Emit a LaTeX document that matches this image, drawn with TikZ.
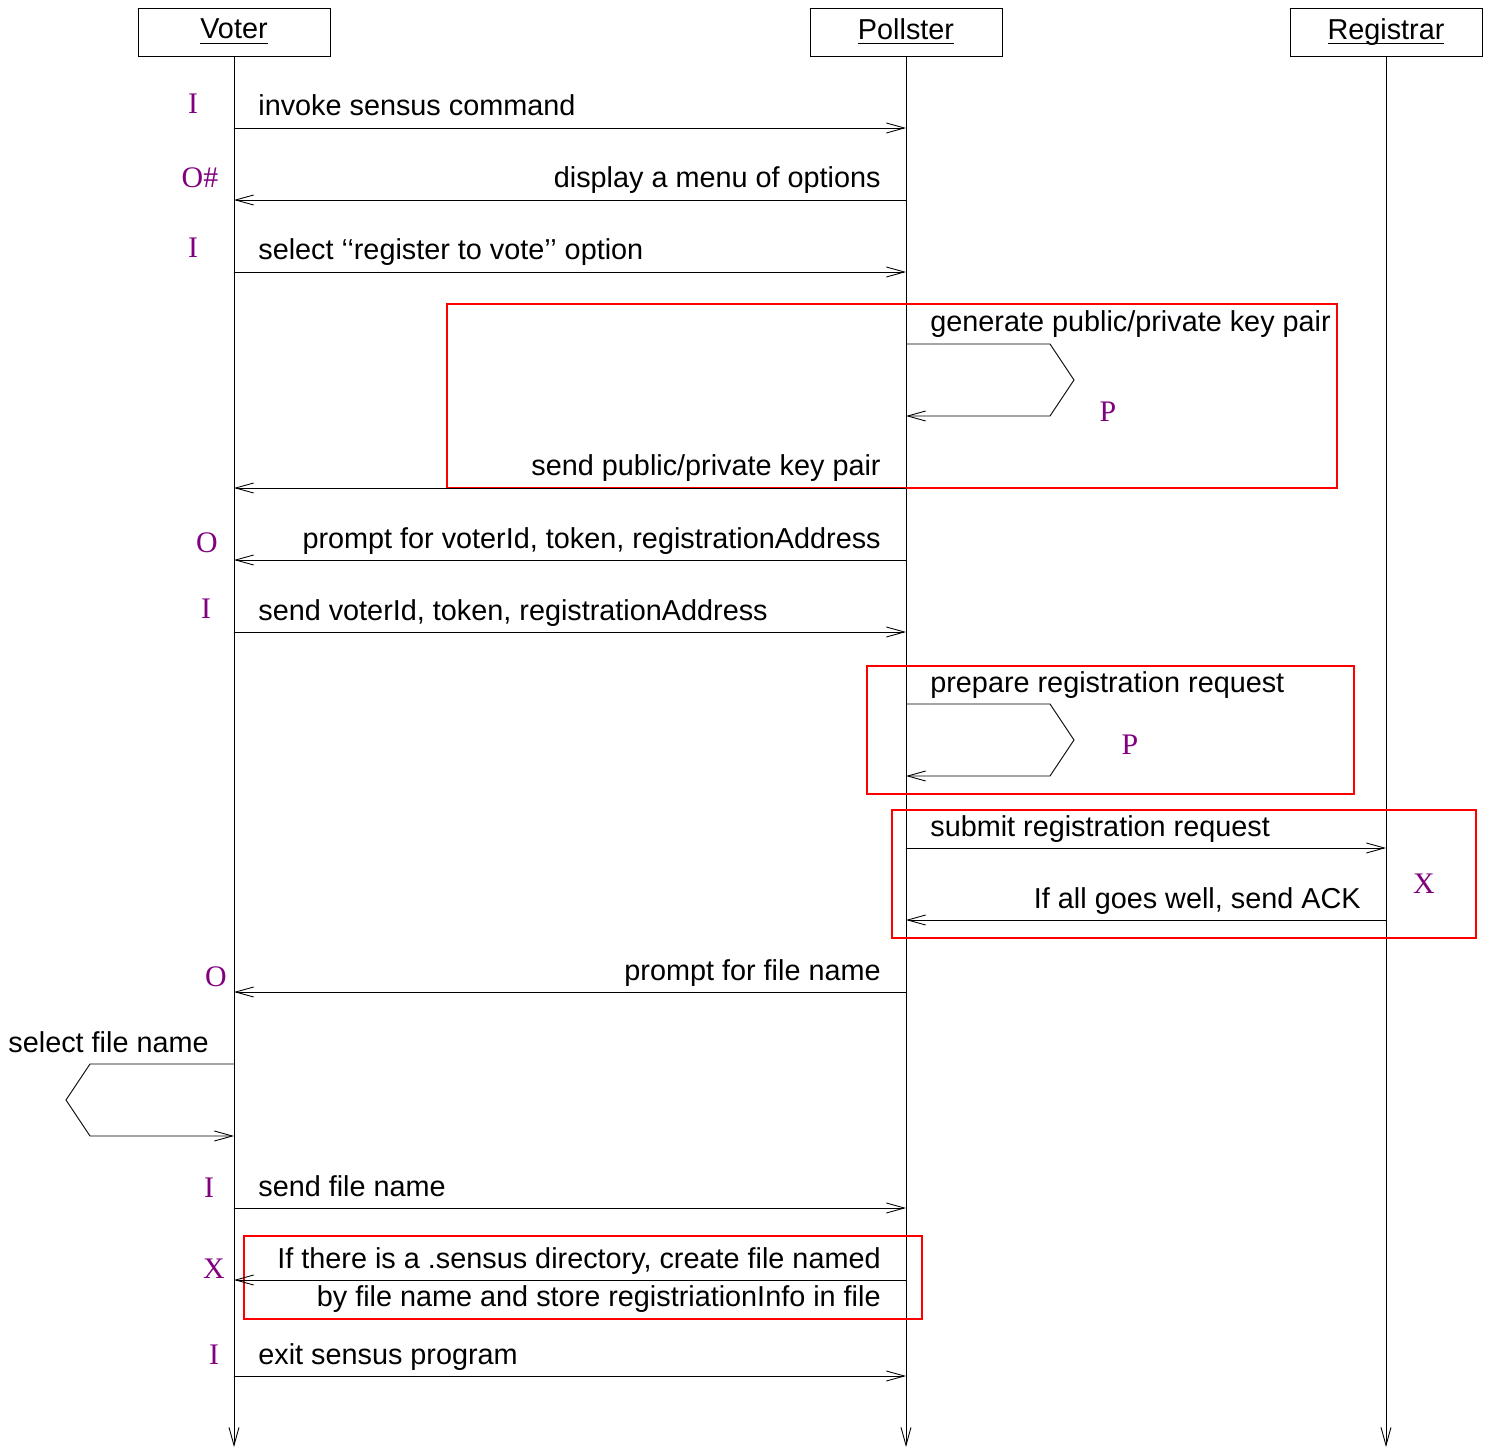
\documentclass[tikz,border=0pt]{standalone}
\usepackage{amsmath}
\usepackage{fontspec}
\setmainfont{Liberation Sans}
\newfontfamily\tagfont{Liberation Serif}
\usepackage{xcolor}
\usetikzlibrary{arrows.meta}
\definecolor{tagpurple}{RGB}{128,0,128}

\tikzset{
  actor/.style={draw,line width=0.5pt,minimum width=3.84cm,minimum height=0.96cm,inner sep=0pt},
  lifeline/.style={line width=0.5pt,-{Straight Barb[length=3.6mm,width=2mm]}},
  msg/.style={line width=0.5pt,-{Straight Barb[length=3.6mm,width=2mm]}},
  msgtext/.style={inner sep=0pt},
  tag/.style={text=tagpurple,font=\tagfont\fontsize{17}{20}\selectfont,inner sep=0pt},
  frag/.style={draw=red,line width=1.5pt}
}
\newcommand{\actorname}[1]{\underline{\smash[b]{#1}}}

\begin{document}
\begin{tikzpicture}[x=0.02cm,y=-0.02cm,font=\fontsize{16.4}{19.7}\selectfont]
    \useasboundingbox (0,0) rectangle (1488,1449);

        % actors and lifelines
        \node[actor] (voter) at (234,32) {\actorname{Voter}};
        \node[actor] (pollster) at (906,32) {\actorname{Pollster}};
        \node[actor] (registrar) at (1386,32) {\actorname{Registrar}};
        \coordinate (voterend) at (234,1447);
        \coordinate (pollsterend) at (906,1447);
        \coordinate (registrarend) at (1386,1447);
        \draw[lifeline] (voter) -- (voterend);
        \draw[lifeline] (pollster) -- (pollsterend);
        \draw[lifeline] (registrar) -- (registrarend);

        % red boxes
        \draw[frag] (447,304) rectangle (1337,488);
        \draw[frag] (867,666) rectangle (1354,794);
        \draw[frag] (892,810) rectangle (1476,938);
        \draw[frag] (244,1236) rectangle (922,1319);

        % messages
        \draw[msg] (voter |- 0,128) -- (pollster |- 0,128);
        \node[msgtext,anchor=base west] (m1) at (258,116) {invoke sensus command};
        \node[tag] (t1) at (193,104) {I};

        \draw[msg] (pollster |- 0,200) -- (voter |- 0,200);
        \node[msgtext,anchor=base east] (m2) at (881,188) {display a menu of options};
        \node[tag] (t2) at (200,178) {O\#};

        \draw[msg] (voter |- 0,272) -- (pollster |- 0,272);
        \node[msgtext,anchor=base west] (m3) at (258,260) {select {`}{`}register to vote{'}{'} option};
        \node[tag] (t3) at (193,248) {I};

        \draw[msg] (pollster |- 0,344) -- (1050,344) -- (1074,380) -- (1050,416) -- (pollster |- 0,416);
        \node[msgtext,anchor=base west] (m4) at (930,332) {generate public/private key pair};
        \node[tag] (t4) at (1108,412) {P};

        \draw[msg] (pollster |- 0,488) -- (voter |- 0,488);
        \node[msgtext,anchor=base east] (m5) at (881,476) {send public/private key pair};

        \draw[msg] (pollster |- 0,560) -- (voter |- 0,560);
        \node[msgtext,anchor=base east] (m6) at (881,548) {prompt for voterId, token, registrationAddress};
        \node[tag] (t6) at (207,543) {O};

        \draw[msg] (voter |- 0,632) -- (pollster |- 0,632);
        \node[msgtext,anchor=base west] (m7) at (258,620) {send voterId, token, registrationAddress};
        \node[tag] (t7) at (206,609) {I};

        \draw[msg] (pollster |- 0,704) -- (1050,704) -- (1074,740) -- (1050,776) -- (pollster |- 0,776);
        \node[msgtext,anchor=base west] (m8) at (930,692) {prepare registration request};
        \node[tag] (t8) at (1130,745) {P};

        \draw[msg] (pollster |- 0,848) -- (registrar |- 0,848);
        \node[msgtext,anchor=base west] (m9) at (930,836) {submit registration request};

        \draw[msg] (registrar |- 0,920) -- (pollster |- 0,920);
        \node[msgtext,anchor=base east] (m10) at (1361,908) {If all goes well, send ACK};
        \node[tag] (t10) at (1424,884) {X};

        \draw[msg] (pollster |- 0,992) -- (voter |- 0,992);
        \node[msgtext,anchor=base east] (m11) at (881,980) {prompt for file name};
        \node[tag] (t11) at (216,977) {O};

        \draw[msg] (voter |- 0,1064) -- (90,1064) -- (66,1100) -- (90,1136) -- (voter |- 0,1136);
        \node[msgtext,anchor=base east] (m12) at (209,1052) {select file name};

        \draw[msg] (voter |- 0,1208) -- (pollster |- 0,1208);
        \node[msgtext,anchor=base west] (m13) at (258,1196) {send file name};
        \node[tag] (t13) at (209,1188) {I};

        \draw[msg] (pollster |- 0,1280) -- (voter |- 0,1280);
        \node[msgtext,anchor=base east] (m14) at (881,1268) {If there is a .sensus directory, create file named};
        \node[msgtext,anchor=base east] (m14b) at (881,1306) {by file name and store registriationInfo in file};
        \node[tag] (t14) at (214,1269) {X};

        \draw[msg] (voter |- 0,1376) -- (pollster |- 0,1376);
        \node[msgtext,anchor=base west] (m15) at (258,1364) {exit sensus program};
        \node[tag] (t15) at (214,1355) {I};

\end{tikzpicture}
\end{document}
